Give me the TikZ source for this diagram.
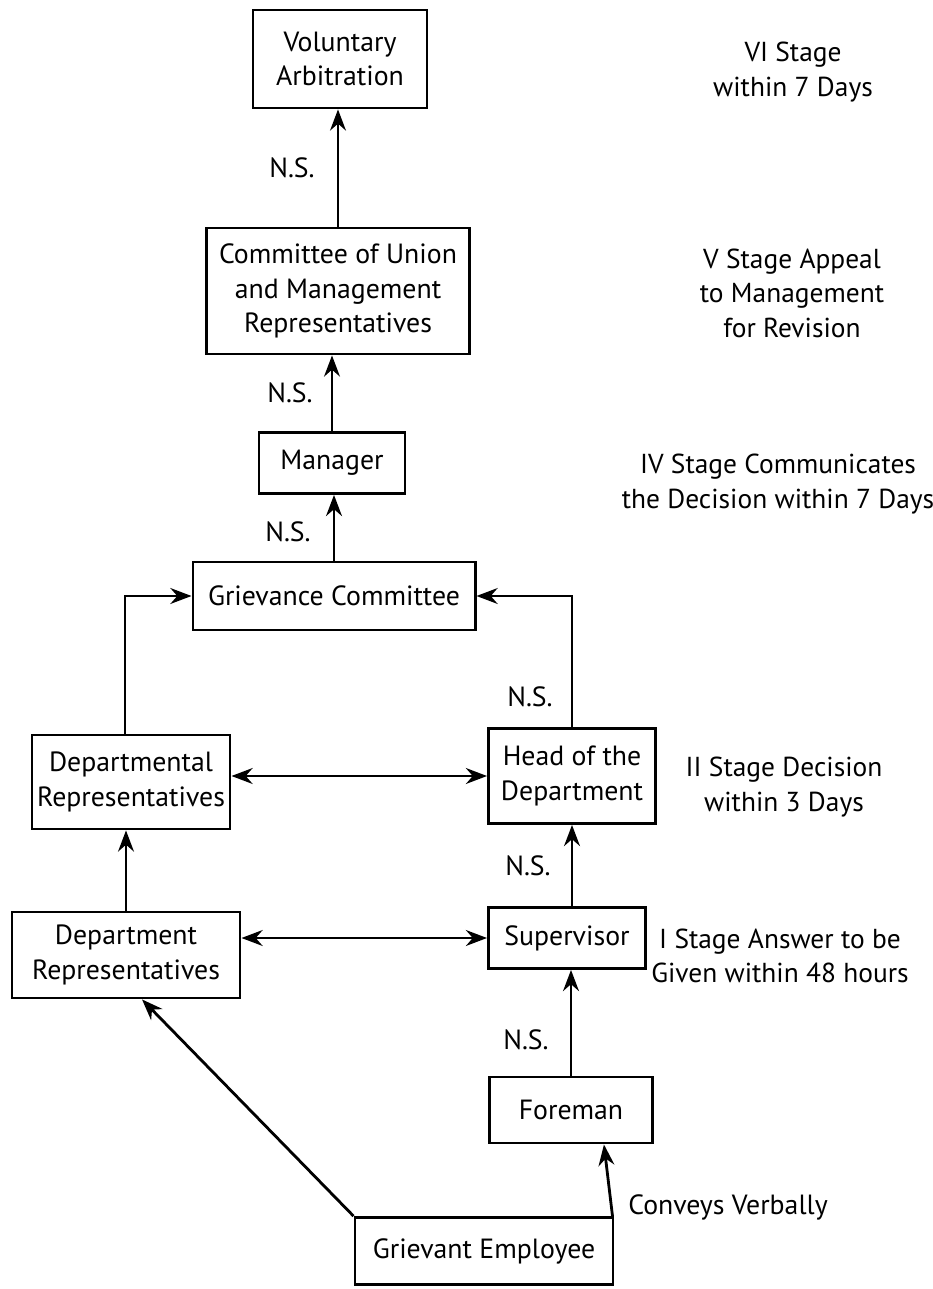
\documentclass[tikz,border=0pt]{standalone}
\usepackage{fontspec}
\setmainfont{PT Sans}
\usetikzlibrary{arrows.meta}

\begin{document}
\begin{tikzpicture}[x=0.01cm,y=-0.01cm,
		box/.style={draw,line width=0.8pt,align=center,inner sep=0pt,font=\fontsize{7.9}{9.8}\selectfont},
		stage/.style={align=center,font=\fontsize{7.8}{9.8}\selectfont},
		ns/.style={font=\fontsize{7.9}{9.8}\selectfont},
		flow/.style={line width=0.8pt,-{Stealth[length=6pt,width=4.5pt]}},
		both/.style={line width=0.8pt,{Stealth[length=6pt,width=4.5pt]}-{Stealth[length=6pt,width=4.5pt]}}]
	\useasboundingbox (0,0) rectangle (932,1289);
	
	% Kaestchen, von oben nach unten
	\node[box,minimum width=1.74cm,minimum height=0.98cm] (vol) at (340,59) {Voluntary\\Arbitration};
	\node[box,minimum width=2.63cm,minimum height=1.26cm] (com) at (338,291) {Committee of Union\\and Management\\Representatives};
	\node[box,minimum width=1.46cm,minimum height=0.61cm] (man) at (332,463) {Manager};
	\node[box,minimum width=2.82cm,minimum height=0.68cm] (grc) at (334,596) {Grievance Committee};
	\node[box,minimum width=1.98cm,minimum height=0.94cm] (depl) at (131,782) {Departmental\\Representatives};
	\node[box,minimum width=1.67cm,minimum height=0.95cm] (hod) at (572,776) {Head of the\\Department};
	\node[box,minimum width=2.28cm,minimum height=0.86cm] (dept) at (126,955) {Department\\Representatives};
	\node[box,minimum width=1.57cm,minimum height=0.61cm] (sup) at (567,938) {Supervisor};
	\node[box,minimum width=1.63cm,minimum height=0.66cm] (fore) at (571,1110) {Foreman};
	\node[box,minimum width=2.58cm,minimum height=0.67cm] (gri) at (484,1251) {Grievant Employee};
	
	% Stufen rechts
	\node[stage] (st6) at (793,72) {VI Stage\\within 7 Days};
	\node[stage] (st5) at (792,293) {V Stage Appeal\\to Management\\for Revision};
	\node[stage] (st4) at (778,484) {IV Stage Communicates\\the Decision within 7 Days};
	\node[stage] (st2) at (784,787) {II Stage Decision\\within 3 Days};
	\node[stage] (st1) at (780,956) {I Stage Answer to be\\Given within 48 hours};
	\node[ns] (conv) at (728,1207) {Conveys Verbally};
	
	% N.S.
	\node[ns] (ns6) at (292,168) {N.S.};
	\node[ns] (ns5) at (290,393) {N.S.};
	\node[ns] (ns4) at (288,532) {N.S.};
	\node[ns] (ns3) at (530,697) {N.S.};
	\node[ns] (ns2) at (528,866) {N.S.};
	\node[ns] (ns1) at (526,1040) {N.S.};
	
	% Pfeile
	\draw[flow] (com.north) -- (com.north |- vol.south);
	\draw[flow] (man.north) -- (man.north |- com.south);
	\draw[flow] (grc.north) -- (grc.north |- man.south);
	\draw[flow] ([xshift=-0.06cm]depl.north) |- (grc.west);
	\draw[flow] (hod.north) |- (grc.east);
	\draw[both] (depl.east |- hod.west) -- (hod.west);
	\draw[flow] (dept.north) -- (dept.north |- depl.south);
	\draw[flow] (hod.south |- sup.north) -- (hod.south);
	\draw[both] (dept.east |- sup.west) -- (sup.west);
	\draw[flow] (fore.north) -- (fore.north |- sup.south);
	\draw[flow] (gri.north west) -- ([xshift=0.16cm]dept.south);
	\draw[flow] ([xshift=-0.02cm]gri.north east) -- ([xshift=-0.5cm]fore.south east);
	
\end{tikzpicture}
\end{document}
